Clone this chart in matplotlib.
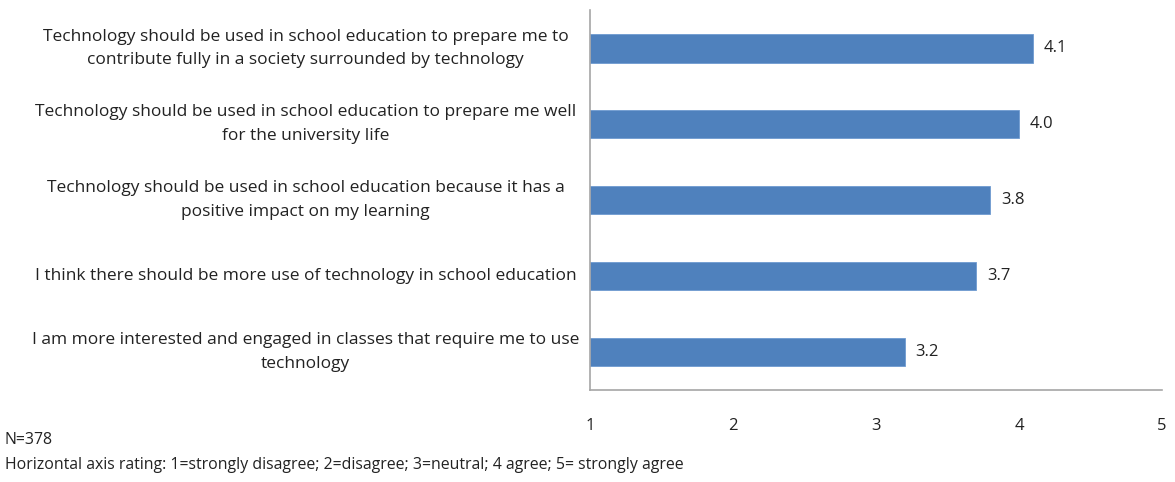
import matplotlib.pyplot as plt

statements = [
    "Technology should be used in school education to prepare me to\ncontribute fully in a society surrounded by technology",
    "Technology should be used in school education to prepare me well\nfor the university life",
    "Technology should be used in school education because it has a\npositive impact on my learning",
    "I think there should be more use of technology in school education",
    "I am more interested and engaged in classes that require me to use\ntechnology",
]
ratings = [4.1, 4.0, 3.8, 3.7, 3.2]
ticks = [1, 2, 3, 4, 5]

plt.rcParams['font.family'] = ['Open Sans', 'DejaVu Sans']

fig = plt.figure(figsize=(11.75, 4.82), dpi=100)
ax = fig.add_axes([0.502, 0.191, 0.487, 0.788])

ypos = list(range(len(statements)))
ax.barh(ypos, [r - 1 for r in ratings], left=1, height=0.38, color='#4F81BD',
        edgecolor='#6F9AD0', linewidth=0.6)
for y, r in zip(ypos, ratings):
    ax.text(r + 0.075, y, f"{r:.1f}", va='center', ha='left', fontsize=12, color='#222222')

ax.set_xlim(1, 5)
ax.set_ylim(len(statements) - 0.5, -0.5)
ax.set_xticks(ticks)
ax.set_xticklabels([str(t) for t in ticks])
ax.set_yticks(ypos)
ax.set_yticklabels([])
ax.tick_params(axis='y', length=0)
ax.tick_params(axis='x', length=0, pad=20, labelsize=12, labelcolor='#222222')

# category labels centred in the space left of the axis
for y, s in zip(ypos, statements):
    ax.text(-0.497, y, s, transform=ax.get_yaxis_transform(), ha='center', va='center',
            multialignment='center', fontsize=12.5, color='#222222', linespacing=1.6)

for side in ['top', 'right']:
    ax.spines[side].set_visible(False)
for side in ['left', 'bottom']:
    ax.spines[side].set_color('#A6A6A6')
    ax.spines[side].set_linewidth(1.2)

fig.text(0.004, 1 - 440 / 482, "N=378", fontsize=11.4, va='center', color='#222222')
fig.text(0.004, 1 - 465 / 482,
         "Horizontal axis rating: 1=strongly disagree; 2=disagree; 3=neutral; 4 agree; 5= strongly agree",
         fontsize=11.4, va='center', color='#222222')

fig.savefig('out.png', dpi=100)
